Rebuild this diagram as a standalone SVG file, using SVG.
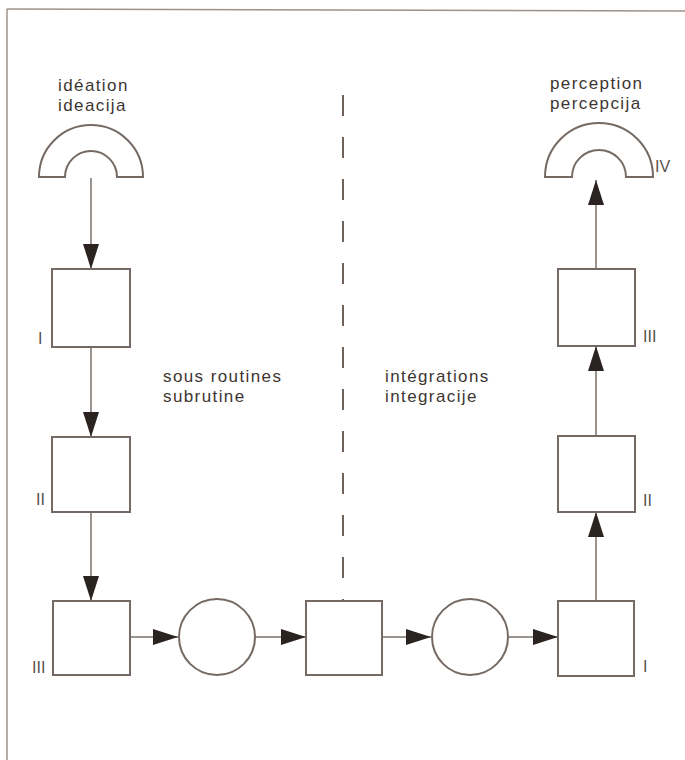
<svg xmlns="http://www.w3.org/2000/svg" width="685" height="760" viewBox="0 0 685 760">
<style>
.n{fill:#fff;stroke:#756a63;stroke-width:2}
.c{fill:none;stroke:#7a6f68;stroke-width:1.5}
.t{font-family:"Liberation Sans",Arial,sans-serif;font-size:17px;letter-spacing:1.4px;fill:#3d3531}
.r{font-family:"Liberation Sans",Arial,sans-serif;font-size:16px;fill:#5a514c}
</style>
<defs>
<marker id="a" markerUnits="userSpaceOnUse" markerWidth="26" markerHeight="18" refX="25" refY="8" orient="auto">
<path d="M0,0 L25,8 L0,16 z" fill="#2b2320"/>
</marker>
</defs>
<rect width="685" height="760" fill="#fff"/>
<g id="frame">
<line x1="7" y1="9" x2="685" y2="11" stroke="#9d928a" stroke-width="1.5"/>
<line x1="7" y1="9" x2="7" y2="760" stroke="#9d928a" stroke-width="1.5"/>
</g>
<g id="connectors">
<line class="c" x1="91" y1="178" x2="91" y2="269" marker-end="url(#a)"/>
<line class="c" x1="91" y1="347" x2="91" y2="437" marker-end="url(#a)"/>
<line class="c" x1="91" y1="512" x2="91" y2="601" marker-end="url(#a)"/>
<line class="c" x1="130" y1="637" x2="178" y2="637" marker-end="url(#a)"/>
<line class="c" x1="255" y1="637" x2="306" y2="637" marker-end="url(#a)"/>
<line class="c" x1="382" y1="637" x2="431" y2="637" marker-end="url(#a)"/>
<line class="c" x1="508" y1="637" x2="558" y2="637" marker-end="url(#a)"/>
<line class="c" x1="596" y1="601" x2="596" y2="512" marker-end="url(#a)"/>
<line class="c" x1="596" y1="436" x2="596" y2="346" marker-end="url(#a)"/>
<line class="c" x1="596" y1="269" x2="596" y2="180" marker-end="url(#a)"/>
<line x1="343" y1="95" x2="343" y2="601" stroke="#6e625b" stroke-width="2" stroke-dasharray="21 21"/>
</g>
<g id="ideation">
<path class="n" d="M39,177 A52,52 0 0 1 143,177 L117,177 A26,26 0 0 0 65,177 Z"/>
<text class="t" x="58" y="91">idéation</text>
<text class="t" x="58" y="111">ideacija</text>
</g>
<g id="perception">
<path class="n" d="M545,177 A54,54 0 0 1 653,177 L626,177 A27,27 0 0 0 572,177 Z"/>
<text class="t" x="550" y="89">perception</text>
<text class="t" x="550" y="109">percepcija</text>
<text class="r" x="655" y="172">IV</text>
</g>
<g id="left-I">
<rect class="n" x="52" y="269" width="78" height="78"/>
<text class="r" x="38" y="344">I</text>
</g>
<g id="left-II">
<rect class="n" x="52" y="437" width="78" height="75"/>
<text class="r" x="36" y="505">II</text>
</g>
<g id="left-III">
<rect class="n" x="53" y="601" width="77" height="74"/>
<text class="r" x="32" y="673">III</text>
</g>
<g id="circle1">
<circle class="n" cx="217" cy="637" r="38"/>
</g>
<g id="center-box">
<rect class="n" x="306" y="601" width="76" height="74"/>
</g>
<g id="circle2">
<circle class="n" cx="470" cy="637" r="38"/>
</g>
<g id="right-I">
<rect class="n" x="558" y="601" width="76" height="75"/>
<text class="r" x="643" y="672">I</text>
</g>
<g id="right-II">
<rect class="n" x="558" y="436" width="77" height="76"/>
<text class="r" x="643" y="506">II</text>
</g>
<g id="right-III">
<rect class="n" x="558" y="269" width="77" height="77"/>
<text class="r" x="643" y="342">III</text>
</g>
<g id="labels">
<text class="t" x="163" y="382">sous routines</text>
<text class="t" x="163" y="402">subrutine</text>
<text class="t" x="385" y="382">intégrations</text>
<text class="t" x="385" y="402">integracije</text>
</g>
</svg>
